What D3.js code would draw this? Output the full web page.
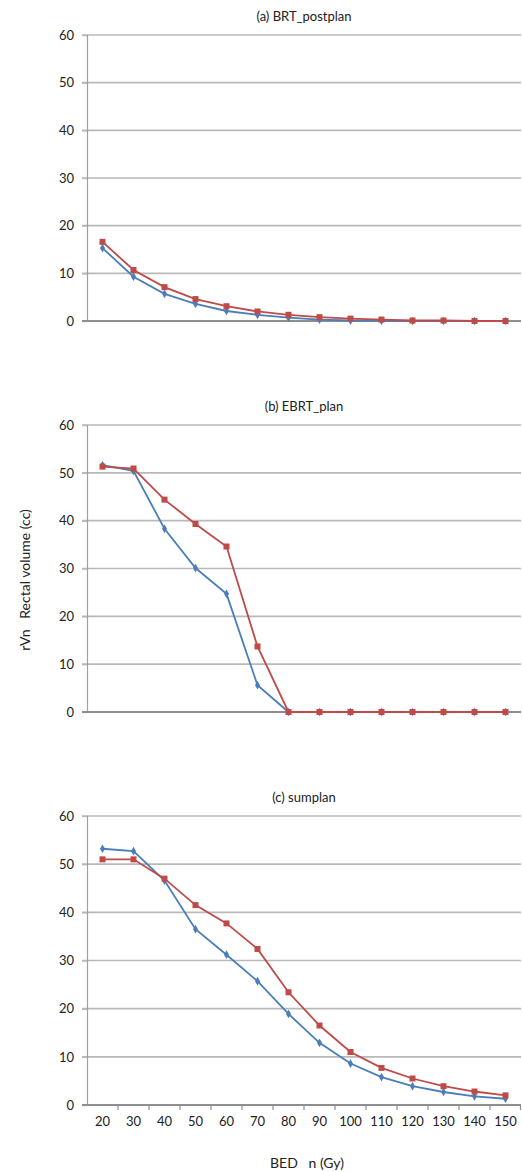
<!DOCTYPE html>
<html>
<head>
<meta charset="utf-8">
<script src="https://cdn.jsdelivr.net/npm/d3@7"></script>
<style>
  body { margin: 0; background: #fff; }
  svg text { font-family: "Lato", "Open Sans", sans-serif; fill: #222; }
</style>
</head>
<body>
<div id="vis-container"></div>
<script>
// chart size
const width = 522;
const height = 1172;
const margin = { left: 87, right: 1 };

// BED_n categories (Gy)
const bedValues = [20, 30, 40, 50, 60, 70, 80, 90, 100, 110, 120, 130, 140, 150];
const yTickValues = [0, 10, 20, 30, 40, 50, 60];
const panelTitles = ["(a) BRT_postplan", "(b) EBRT_plan", "(c) sumplan"];

// rVn values
const postplanBlue = [15.3, 9.3, 5.7, 3.6, 2.1, 1.3, 0.7, 0.3, 0.1, 0.05, 0, 0, 0, 0];
const postplanRed = [16.6, 10.7, 7.1, 4.6, 3.1, 2.0, 1.3, 0.8, 0.5, 0.3, 0.1, 0.1, 0, 0];
const ebrtBlue = [51.6, 50.4, 38.3, 30.1, 24.7, 5.6, 0, 0, 0, 0, 0, 0, 0, 0];
const ebrtRed = [51.3, 50.9, 44.4, 39.3, 34.6, 13.7, 0, 0, 0, 0, 0, 0, 0, 0];
const sumBlue = [53.2, 52.7, 46.6, 36.5, 31.2, 25.7, 18.9, 12.9, 8.6, 5.8, 3.9, 2.7, 1.8, 1.3];
const sumRed = [51.0, 51.0, 47.0, 41.5, 37.7, 32.4, 23.4, 16.5, 11.0, 7.7, 5.5, 3.9, 2.8, 2.0];

const blue = "#4a7ebb";
const red = "#be4b48";
const gridColor = "#b9b9b9";
const axisColor = "#8e8e8e";

// vertical placement of each panel: [top (60), bottom (0)]
const panels = [
  { title: panelTitles[0], top: 35, bottom: 321, blue: postplanBlue, red: postplanRed, xLabels: false },
  { title: panelTitles[1], top: 425, bottom: 712, blue: ebrtBlue, red: ebrtRed, xLabels: false },
  { title: panelTitles[2], top: 816, bottom: 1105, blue: sumBlue, red: sumRed, xLabels: true }
];

const svg = d3.select("#vis-container")
  .append("svg")
  .attr("width", width)
  .attr("height", height);

const x = d3.scaleBand()
  .domain(bedValues)
  .range([margin.left, width - margin.right])
  .paddingInner(0)
  .paddingOuter(0);

const xc = d => x(d) + x.bandwidth() / 2;

panels.forEach(function (p) {
  const y = d3.scaleLinear()
    .domain([0, 60])
    .range([p.bottom, p.top]);

  const g = svg.append("g");

  // gridlines (with small tick stubs left of the axis)
  g.selectAll(".grid")
    .data(yTickValues.filter(v => v > 0))
    .join("line")
    .attr("x1", margin.left - 5)
    .attr("x2", width - margin.right)
    .attr("y1", d => y(d))
    .attr("y2", d => y(d))
    .attr("stroke", gridColor)
    .attr("stroke-width", 1.6);

  // y axis
  const yAxis = g.append("g")
    .attr("transform", `translate(${margin.left},0)`)
    .call(d3.axisLeft(y).tickValues(yTickValues).tickSize(5).tickPadding(8));
  yAxis.select(".domain").attr("stroke", "#a0a0a0").attr("stroke-width", 1.2);
  yAxis.selectAll(".tick line").attr("stroke", gridColor).attr("stroke-width", 1.4);
  yAxis.selectAll(".tick text").attr("font-size", "13px").attr("fill", "#222")
    .style("font-family", "Lato, sans-serif");

  // x axis at zero
  const xAxis = g.append("g")
    .attr("transform", `translate(0,${p.bottom})`)
    .call(d3.axisBottom(x).tickSize(0).tickFormat(p.xLabels ? d => d : () => "").tickPadding(12));
  xAxis.select(".domain").attr("stroke", axisColor).attr("stroke-width", 2.2)
    .attr("d", `M${margin.left - 5},0H${width - margin.right}`);
  xAxis.selectAll(".tick text").attr("font-size", "13px").attr("fill", "#222")
    .style("font-family", "Lato, sans-serif");

  if (p.xLabels) {
    // tick marks between categories
    g.selectAll(".xtick")
      .data(bedValues.slice(1).concat(["end"]))
      .join("line")
      .attr("x1", (d, i) => i < bedValues.length - 1 ? x(d) : width - margin.right - 0.5)
      .attr("x2", (d, i) => i < bedValues.length - 1 ? x(d) : width - margin.right - 0.5)
      .attr("y1", p.bottom)
      .attr("y2", p.bottom + 5)
      .attr("stroke", axisColor)
      .attr("stroke-width", 1.2);
  }

  // title
  g.append("text")
    .attr("x", (margin.left + width - margin.right) / 2)
    .attr("y", p.top - 14)
    .attr("text-anchor", "middle")
    .attr("font-size", "13px")
    .text(p.title);

  const line = d3.line()
    .x((d, i) => xc(bedValues[i]))
    .y(d => y(d));

  // blue series with diamond markers
  g.append("path")
    .datum(p.blue)
    .attr("fill", "none")
    .attr("stroke", blue)
    .attr("stroke-width", 1.8)
    .attr("d", line);
  g.selectAll(".bm")
    .data(p.blue)
    .join("path")
    .attr("transform", (d, i) => `translate(${xc(bedValues[i])},${y(d)})`)
    .attr("d", d3.symbol(d3.symbolDiamond, 22))
    .attr("fill", blue);

  // red series with square markers
  g.append("path")
    .datum(p.red)
    .attr("fill", "none")
    .attr("stroke", red)
    .attr("stroke-width", 1.8)
    .attr("d", line);
  g.selectAll(".rm")
    .data(p.red)
    .join("rect")
    .attr("x", (d, i) => xc(bedValues[i]) - 3)
    .attr("y", d => y(d) - 3)
    .attr("width", 6)
    .attr("height", 6)
    .attr("fill", red);
});

// axis titles
svg.append("text")
  .attr("transform", "translate(30,580) rotate(-90)")
  .attr("text-anchor", "middle")
  .attr("font-size", "14px")
  .attr("xml:space", "preserve")
  .style("white-space", "pre")
  .text("rVn   Rectal volume (cc)");

svg.append("text")
  .attr("x", 307)
  .attr("y", 1168)
  .attr("text-anchor", "middle")
  .attr("font-size", "14px")
  .style("white-space", "pre")
  .text("BED   n (Gy)");
</script>
</body>
</html>
